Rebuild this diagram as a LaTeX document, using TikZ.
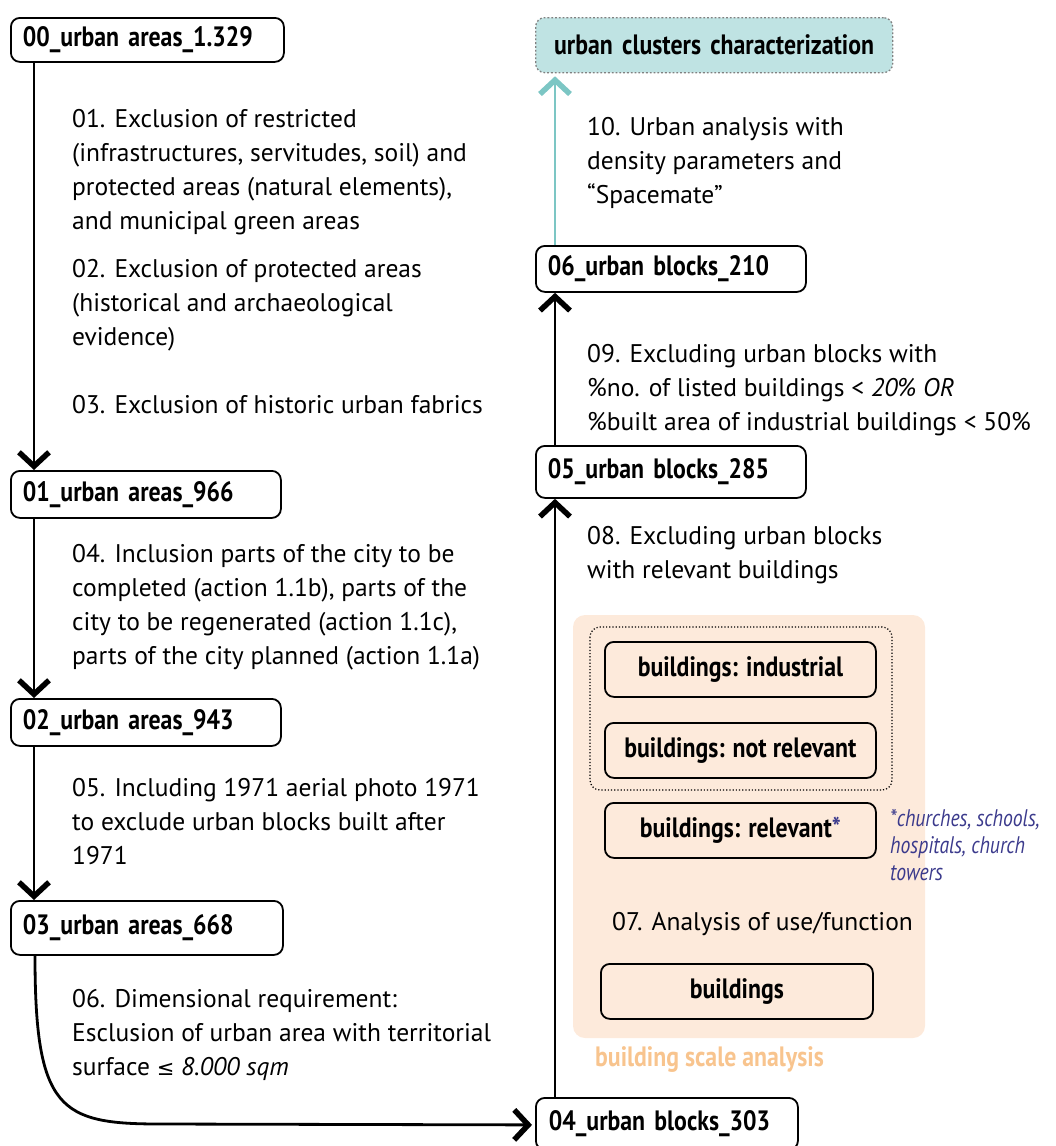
\documentclass[tikz,border=0pt]{standalone}
\usepackage{fontspec}
\setmainfont{PT Sans}
\newfontfamily\condfont{PT Sans}[FakeStretch=0.85]
\newfontfamily\notefont{PT Sans}[FakeStretch=0.82]
\newfontfamily\symfont{DejaVu Sans}
\usetikzlibrary{arrows.meta}
\definecolor{tealfill}{HTML}{BFE3E3}
\definecolor{tealline}{HTML}{7CC6C4}
\definecolor{peachfill}{HTML}{FDEADB}
\definecolor{peachtext}{HTML}{F8C48E}
\definecolor{navy}{HTML}{3B3A8C}
\tikzset{
  x=1pt, y=-1pt,
  bodytext/.style={anchor=base west, inner sep=0pt, align=left,
    font=\fontsize{25.5}{33.7}\selectfont},
  flowbox/.style={draw, line width=1.8pt, rounded corners=9pt, anchor=north west,
    inner ysep=0pt, inner xsep=12pt, align=left,
    font=\fontsize{28}{32}\selectfont\condfont\bfseries},
  bldbox/.style={draw, line width=1.8pt, rounded corners=9pt, anchor=north west,
    inner sep=0pt, align=center,
    font=\fontsize{28}{32}\selectfont\condfont\bfseries},
  arr/.style={line width=2.8pt, -{Straight Barb[length=14pt,width=30pt,line width=5.5pt]}},
}
\begin{document}
\begin{tikzpicture}
\useasboundingbox (0,0) rectangle (1056,1146);
% building scale analysis background
\fill[peachfill, rounded corners=12pt] (573,615) rectangle (925,1038);
\draw[dotted, line width=1.2pt, rounded corners=10pt] (590,627) rectangle (892,790);
% left chain
\node[flowbox, text width=249pt, minimum height=44pt] (n00) at (10,17) {00\_urban areas\_1.329};
\node[flowbox, text width=246pt, minimum height=47pt] (n01) at (10,470) {01\_urban areas\_966};
\node[flowbox, text width=246pt, minimum height=47pt] (n02) at (10,698) {02\_urban areas\_943};
\node[flowbox, text width=248pt, minimum height=54pt] (n03) at (10,900) {03\_urban areas\_668};
% right chain
\node[flowbox, text width=236pt, minimum height=52pt, inner xsep=13pt] (n04) at (535,1097) {04\_urban blocks\_303};
\node[flowbox, text width=246pt, minimum height=52pt] (n05) at (535,445) {05\_urban blocks\_285};
\node[flowbox, text width=246pt, minimum height=46pt] (n06) at (535,245) {06\_urban blocks\_210};
\node[flowbox, draw=gray, dotted, line width=1.3pt, fill=tealfill, text width=333pt, minimum height=55pt, align=center] (nuc) at (535,17) {urban clusters characterization};
% building boxes
\node[bldbox, minimum width=271pt, minimum height=55pt] (bind) at (604,641) {buildings: industrial};
\node[bldbox, minimum width=271pt, minimum height=55pt] (bnot) at (604,722) {buildings: not relevant};
\node[bldbox, minimum width=271pt, minimum height=55pt] (brel) at (604,802) {buildings: relevant\textcolor{navy}{*}};
\node[bldbox, minimum width=272pt, minimum height=55pt] (bld) at (600,963) {buildings};
% texts (anchor = baseline of last line)
\node[bodytext] (t01) at (72,229) {01. Exclusion of restricted\\(infrastructures, servitudes, soil) and\\protected areas (natural elements),\\and municipal green areas};
\node[bodytext] (t02) at (72,345) {02. Exclusion of protected areas\\(historical and archaeological\\evidence)};
\node[bodytext] (t03) at (72,413) {03. Exclusion of historic urban fabrics};
\node[bodytext] (t04) at (72,664) {04. Inclusion parts of the city to be\\completed (action 1.1b), parts of the\\city to be regenerated (action 1.1c),\\parts of the city planned (action 1.1a)};
\node[bodytext] (t05) at (72,864) {05. Including 1971 aerial photo 1971\\to exclude urban blocks built after\\1971};
\node[bodytext] (t06) at (72,1075) {06. Dimensional requirement:\\Esclusion of urban area with territorial\\surface {\symfont\fontsize{21}{21}\selectfont ≤} \textit{8.000 sqm}};
\node[bodytext] (t08) at (587,578) {08. Excluding urban blocks\\with relevant buildings};
\node[bodytext] (t09) at (587,430) {09. Excluding urban blocks with\\\%no. of listed buildings < \textit{20\% OR}\\\%built area of industrial buildings < 50\%};
\node[bodytext] (t10) at (587,203) {10. Urban analysis with\\density parameters and\\“Spacemate”};
\node[bodytext] (t07) at (612,930) {07. Analysis of use/function};
\node[anchor=base west, inner sep=0pt, align=left, text=navy,
  font=\fontsize{24}{27}\selectfont\notefont\itshape] (note) at (890,880) {*churches, schools,\\hospitals, church\\towers};
\node[anchor=base west, inner sep=0pt, text=peachtext,
  font=\fontsize{28}{32}\selectfont\condfont\bfseries] (bsa) at (595,1066) {building scale analysis};
% connectors
\draw[arr] ([xshift=24pt]n00.south west) -- ([xshift=24pt]n01.north west);
\draw[arr] ([xshift=24pt]n01.south west) -- ([xshift=24pt]n02.north west);
\draw[arr] ([xshift=24pt]n02.south west) -- ([xshift=24pt]n03.north west);
\draw[arr] ([xshift=25pt]n03.south west) .. controls (35,1110) and (60,1124) .. (160,1124) -- ([xshift=-3pt,yshift=-1pt]n04.west);
\draw[arr] ([xshift=20pt]n04.north west) -- ([xshift=20pt]n05.south west);
\draw[arr] ([xshift=20pt]n05.north west) -- ([xshift=20pt]n06.south west);
\draw[arr, tealline] ([xshift=20pt]n06.north west) -- ([xshift=20pt,yshift=-3pt]nuc.south west);
\end{tikzpicture}
\end{document}
